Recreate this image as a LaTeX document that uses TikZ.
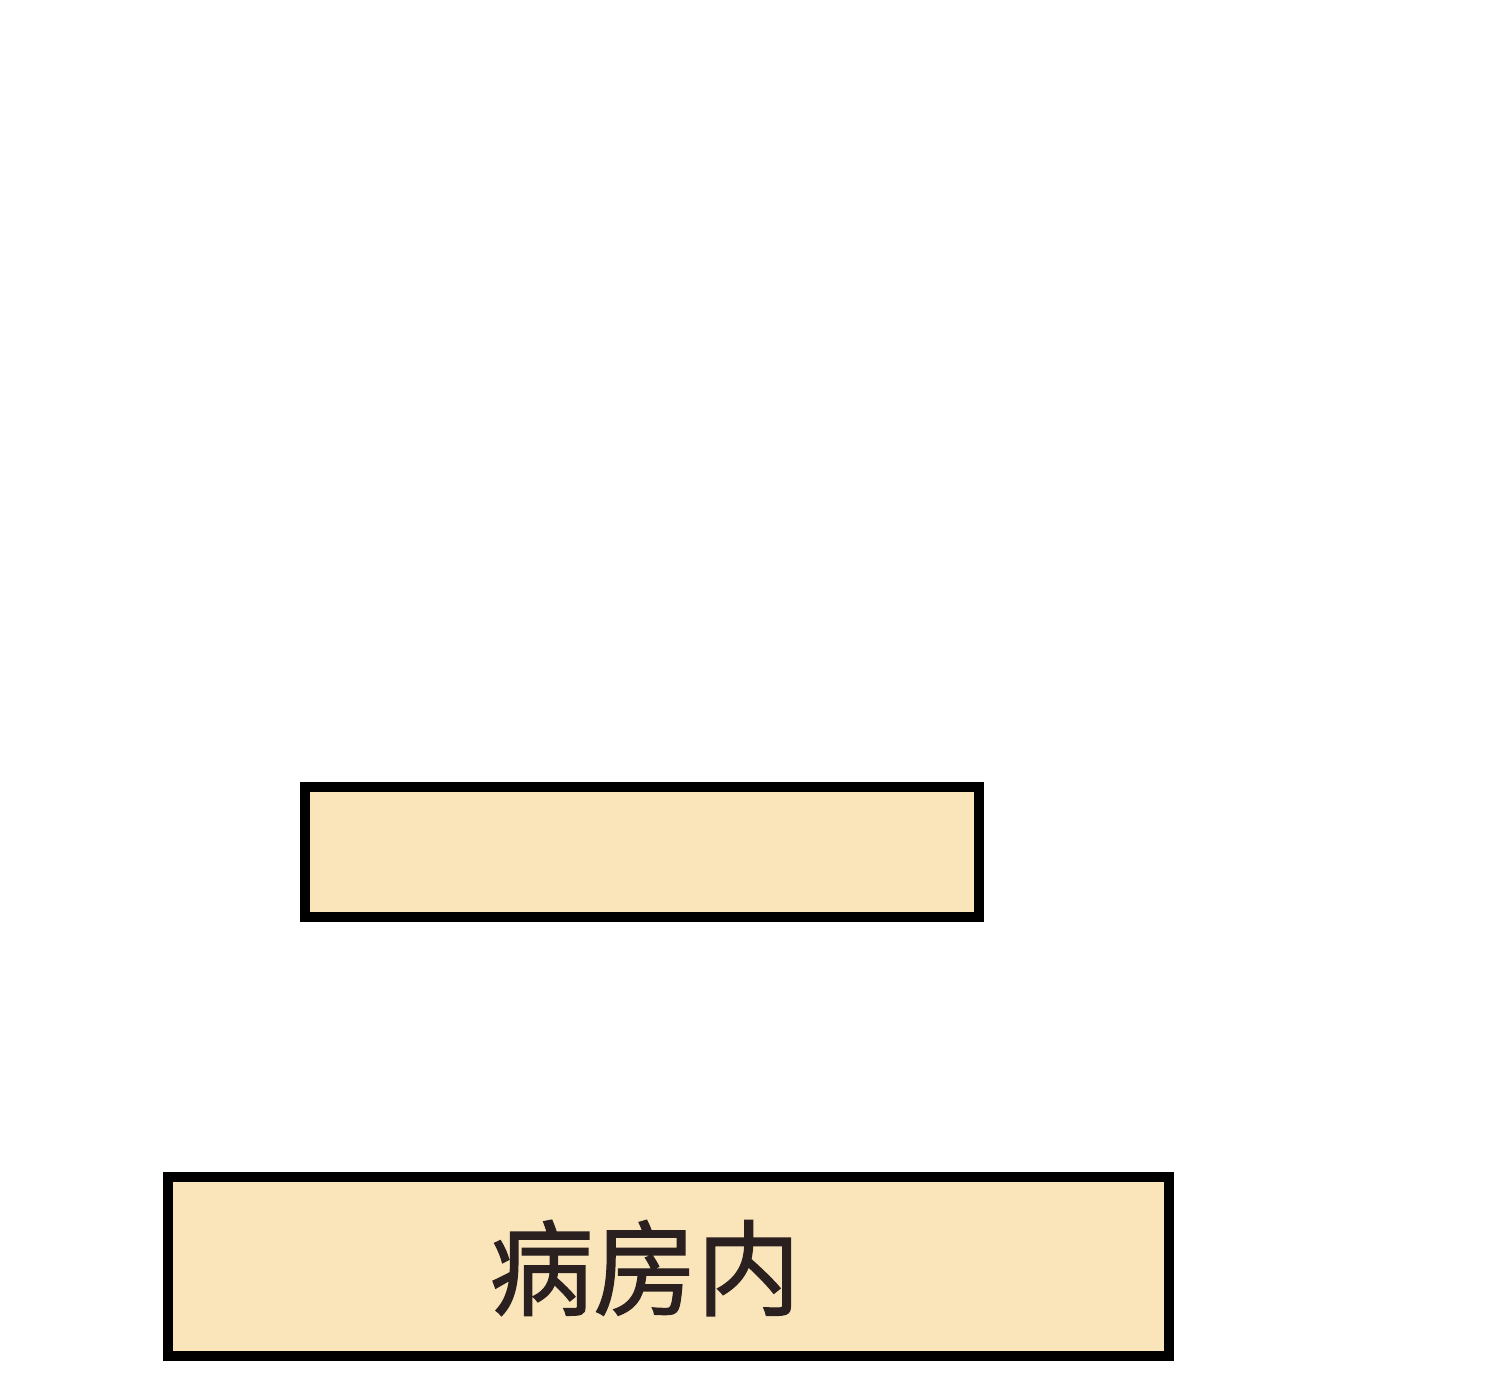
\documentclass[tikz,border=0pt]{standalone}
\usepackage{fontspec}
\newfontfamily\cjk[FakeBold=1.2]{Noto Sans CJK SC}
\usepackage{tikz}
\usetikzlibrary{positioning}
\definecolor{wheat}{RGB}{250,229,187}
\definecolor{inkbrown}{RGB}{43,32,32}
\tikzset{
every picture/.style={line width=0.8pt, >=stealth},
%%%%%%%%%%  Node styles
roombox/.style={rectangle, draw=black, fill=wheat, line width=2.6pt,
                inner sep=0pt, outer sep=0pt},
%note that the boxes are sized by hand, no text inside
roomlabel/.style={inner sep=0pt, text=inkbrown, font=\cjk\fontsize{29.5}{31}\selectfont}
}

\begin{document}
\begin{tikzpicture}
\useasboundingbox (0,0) rectangle (15,13.93);
%% upper box (empty)
\node[roombox, minimum width=6.74cm, minimum height=1.30cm] (bed) at (6.42,5.41) {};
%% lower box with label
\node[roombox, minimum width=10.01cm, minimum height=1.79cm] (ward) at (6.685,1.265) {};
\node[roomlabel] (wardtext) at (6.45,1.25) {病房内};
\end{tikzpicture}
\end{document}
